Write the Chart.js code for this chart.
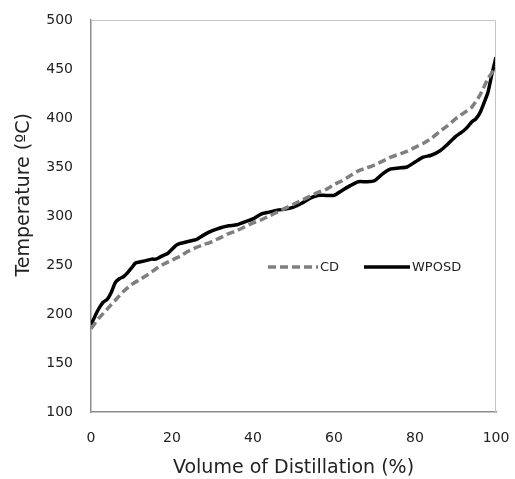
<!DOCTYPE html>
<html><head><meta charset="utf-8">
<script src="https://cdn.jsdelivr.net/npm/chart.js@4.4.1/dist/chart.umd.min.js"></script>
<style>html,body{margin:0;padding:0;background:#fff;}#wrap{width:515px;height:479px;position:relative;}</style>
</head><body><div id="wrap"><canvas id="c" width="515" height="479"></canvas></div>
<script>
const wposdX = [0,1,2,3,4,5,6,7,8,9,10,11,12,13,14,15,16,17,18,19,20,21,22,23,24,25,26,28,30,32,34,36,38,40,42,44,46,48,50,52,54,56,58,60,62,64,66,68,70,72,74,76,78,80,82,84,86,88,90,91,92,93,94,95,96,97,98,99,100];
const wposdY = [189,198,206,212,215,222,232,236,238,242,247,252,253,254,255,256,256,258,260,262,266,270,272,273,274,275,276,281,285,288,290,291,294,297,302,304,306,307,309,313,318,321,321,321,326,331,335,335,336,343,348,349,350,355,360,362,366,373,381,384,387,391,396,399,405,415,426,445,462];
const cdX = [0,2,4,6,8,10,12,14,16,18,20,22,24,26,28,30,32,34,36,38,40,42,44,46,48,50,52,54,56,58,60,62,64,66,68,70,72,74,76,78,80,82,84,86,88,90,92,94,96,98,100];
const cdY = [185,196,205,214,223,230,235,240,246,251,255,259,264,268,271,274,278,282,285,289,293,296,300,304,308,312,316,320,324,327,332,336,341,346,349,352,356,360,363,366,370,374,379,386,392,399,405,411,423,440,452];
const xTicks = [0,20,40,60,80,100];
const yTicks = [100,150,200,250,300,350,400,450,500];
const seriesNames = ["CD","WPOSD"];

const toPts = (xs, ys) => xs.map((x,i)=>({x:x,y:ys[i]}));

const legendPlugin = {
  id:'inlineLegend',
  afterDraw(chart){
    const ctx = chart.ctx, a = chart.chartArea;
    ctx.save();
    ctx.strokeStyle = '#c4c4c4'; ctx.lineWidth = 1;
    ctx.beginPath();
    ctx.moveTo(a.left, a.top+0.5); ctx.lineTo(a.right-0.5, a.top+0.5); ctx.lineTo(a.right-0.5, a.bottom);
    ctx.stroke();
    const y = 267;
    const items = [{x0:268,x1:318,ds:chart.data.datasets[0]},{x0:364,x1:410,ds:chart.data.datasets[1]}];
    ctx.font = '13px "DejaVu Sans"';
    ctx.textBaseline = 'middle';
    items.forEach(it=>{
      ctx.strokeStyle = it.ds.borderColor; ctx.lineWidth = it.ds.borderWidth;
      ctx.setLineDash(it.ds.borderDash || []);
      ctx.beginPath(); ctx.moveTo(it.x0,y); ctx.lineTo(it.x1,y); ctx.stroke();
      ctx.setLineDash([]);
      ctx.fillStyle = '#222';
      ctx.fillText(it.ds.label, it.x1+2, y+1);
    });
    ctx.restore();
  }
};

new Chart(document.getElementById('c'), {
  type:'line',
  data:{datasets:[
    {label:seriesNames[0], data:toPts(cdX,cdY), borderColor:'#7f7f7f', borderWidth:3.5, borderDash:[8,4], pointRadius:0, tension:0.2, fill:false},
    {label:seriesNames[1], data:toPts(wposdX,wposdY), borderColor:'#000000', borderWidth:3.5, pointRadius:0, tension:0.2, fill:false}
  ]},
  options:{
    responsive:false, animation:false,
    layout:{padding:{top:20,right:19,left:0,bottom:0}},
    plugins:{legend:{display:false}, tooltip:{enabled:false}},
    scales:{
      x:{type:'linear', min:0, max:100,
        afterBuildTicks:(s)=>{s.ticks = xTicks.map(v=>({value:v}));},
        afterFit:(s)=>{s.height = 67; s.paddingLeft = 0; s.paddingRight = 0;},
        grid:{display:false, drawTicks:false},
        border:{display:true, color:'#8c8c8c', width:1.5},
        ticks:{color:'#222', font:{family:'DejaVu Sans', size:14}, padding:18},
        title:{display:true, text:'Volume of Distillation (%)', color:'#222', font:{family:'DejaVu Sans', size:19, lineHeight:1.1}, padding:{top:4,bottom:0}}
      },
      y:{type:'linear', min:100, max:500,
        afterBuildTicks:(s)=>{s.ticks = yTicks.map(v=>({value:v}));},
        afterFit:(s)=>{s.width = 91; s.paddingTop = 0; s.paddingBottom = 0;},
        grid:{display:false, drawTicks:false},
        border:{display:true, color:'#8c8c8c', width:1.5},
        ticks:{color:'#222', font:{family:'DejaVu Sans', size:14}, padding:18},
        title:{display:true, text:'\u00a0\u00a0\u00a0\u00a0\u00a0\u00a0\u00a0Temperature (ºC)', color:'#222', font:{family:'DejaVu Sans', size:19}, padding:{top:13,bottom:4}}
      }
    }
  },
  plugins:[legendPlugin]
});
</script></body></html>
